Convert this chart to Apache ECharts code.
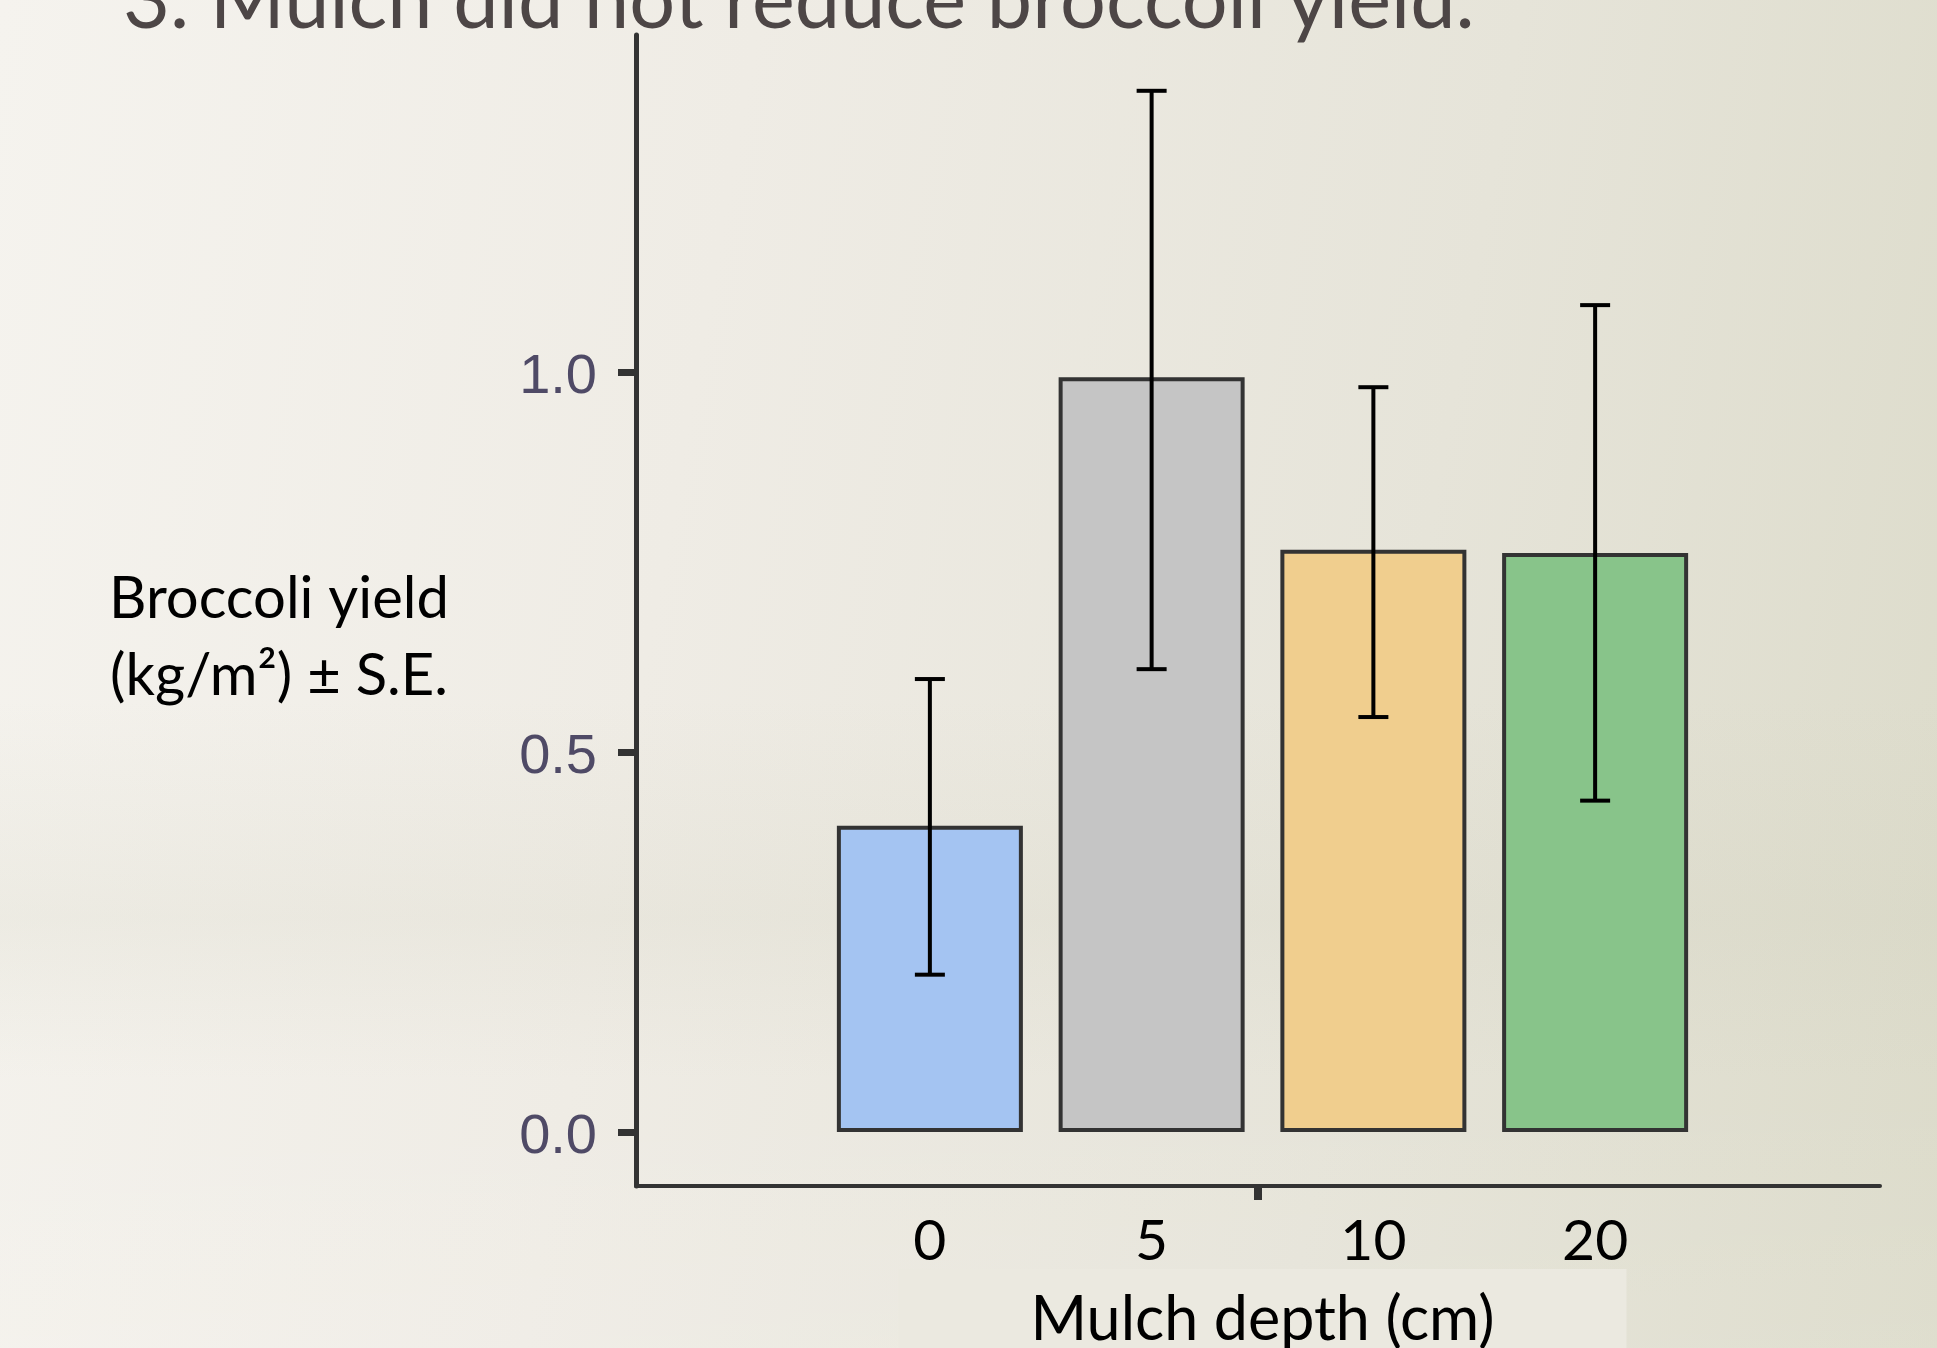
<!DOCTYPE html>
<html>
<head>
<meta charset="utf-8">
<script src="https://cdn.jsdelivr.net/npm/echarts@6/dist/echarts.min.js"></script>
<style>
html, body { margin: 0; padding: 0; }
body {
  width: 1937px; height: 1348px; overflow: hidden;
  background:
    linear-gradient(180deg, rgba(255,255,255,0) 0%, rgba(255,255,255,0) 52%, rgba(205,205,185,0.18) 68%, rgba(255,255,255,0) 80%, rgba(255,255,255,0.08) 100%),
    linear-gradient(100deg, #f5f3ee 0%, #efece5 35%, #e6e4d9 70%, #dcdbca 100%);
}
#chart { width: 1937px; height: 1348px; }
</style>
</head>
<body>
<div id="chart"></div>
<script>
// ---- data ----
const categories = ['0', '5', '10', '20'];
const yieldMean = [0.403, 0.993, 0.766, 0.762];
const seLower = [0.207, 0.609, 0.546, 0.436];
const seUpper = [0.596, 1.370, 0.980, 1.088];
const yTicks = [0.0, 0.5, 1.0];
const barColors = ['#a4c4f2', '#c5c5c5', '#f0ce8e', '#88c48a'];

const titleText = '3. Mulch did not reduce broccoli yield.';
const yName = 'Broccoli yield\n(kg/m\u00b2) \u00b1 S.E.';
const xName = 'Mulch depth (cm)';

const chart = echarts.init(document.getElementById('chart'), null, { renderer: 'canvas' });

const errData = categories.map((c, i) => [i, seLower[i], seUpper[i]]);

const option = {
  backgroundColor: 'transparent',
  animation: false,
  title: [
    {
      text: titleText,
      left: 118,
      top: -44,
      textStyle: { fontFamily: 'Lato', fontWeight: 'normal', fontSize: 81, color: '#4d4646' }
    },
    {
      text: yName,
      left: 274,
      top: 556,
      textAlign: 'center',
      textStyle: { fontFamily: 'Lato', fontWeight: 'normal', fontSize: 58, lineHeight: 77, color: '#000' }
    }
  ],
  grid: [
    { left: 819, right: 231, top: 372, bottom: 216, outerBoundsMode: 'none', containLabel: false },
    { left: 636, right: 57, top: 35, bottom: 162, outerBoundsMode: 'none', containLabel: false }
  ],
  xAxis: [
    {
      gridIndex: 0,
      type: 'category',
      data: categories,
      offset: 54,
      axisLine: { show: false },
      axisTick: { show: false },
      axisLabel: { fontFamily: 'Lato', fontSize: 57, color: '#000', margin: 27 },
      name: xName,
      nameLocation: 'middle',
      nameGap: 83,
      nameMoveOverlap: false,
      nameTextStyle: {
        fontFamily: 'Lato', fontSize: 61, color: '#000',
        backgroundColor: '#ebe9e0', padding: [21, 132, 40, 132]
      }
    },
    {
      gridIndex: 1,
      type: 'value',
      min: 0,
      max: 2,
      interval: 1,
      axisLine: { show: true, lineStyle: { color: '#333', width: 4 } },
      axisTick: { show: true, customValues: [1], length: 14, lineStyle: { color: '#333', width: 8 } },
      axisLabel: { show: false },
      splitLine: { show: false }
    }
  ],
  yAxis: [
    {
      gridIndex: 0,
      type: 'value',
      min: 0,
      max: 1,
      interval: 0.5,
      offset: 183,
      axisLine: { show: false },
      axisTick: { show: true, length: 18, lineStyle: { color: '#333', width: 7 } },
      axisLabel: {
        margin: 39, fontFamily: 'Liberation Sans', fontSize: 56, color: '#4f4a66',
        verticalAlign: 'top', lineHeight: 12,
        formatter: v => v.toFixed(1)
      },
      splitLine: { show: false }
    },
    {
      gridIndex: 1,
      type: 'value',
      min: 0,
      max: 1,
      axisLine: { show: true, lineStyle: { color: '#333', width: 5 } },
      axisTick: { show: false },
      axisLabel: { show: false },
      splitLine: { show: false }
    }
  ],
  series: [
    {
      type: 'bar',
      xAxisIndex: 0,
      yAxisIndex: 0,
      data: yieldMean,
      barWidth: 186,
      itemStyle: {
        color: p => barColors[p.dataIndex],
        borderColor: '#333',
        borderWidth: 4
      }
    },
    {
      type: 'custom',
      xAxisIndex: 0,
      yAxisIndex: 0,
      clip: false,
      data: errData,
      z: 10,
      renderItem: (params, api) => {
        const x = api.value(0);
        const lo = api.coord([x, api.value(1)]);
        const hi = api.coord([x, api.value(2)]);
        const hw = 15;
        const st = { stroke: '#000', lineWidth: 4 };
        return {
          type: 'group',
          children: [
            { type: 'line', shape: { x1: hi[0], y1: hi[1], x2: lo[0], y2: lo[1] }, style: st },
            { type: 'line', shape: { x1: hi[0] - hw, y1: hi[1], x2: hi[0] + hw, y2: hi[1] }, style: st },
            { type: 'line', shape: { x1: lo[0] - hw, y1: lo[1], x2: lo[0] + hw, y2: lo[1] }, style: st }
          ]
        };
      }
    }
  ]
};

chart.setOption(option);
</script>
</body>
</html>
